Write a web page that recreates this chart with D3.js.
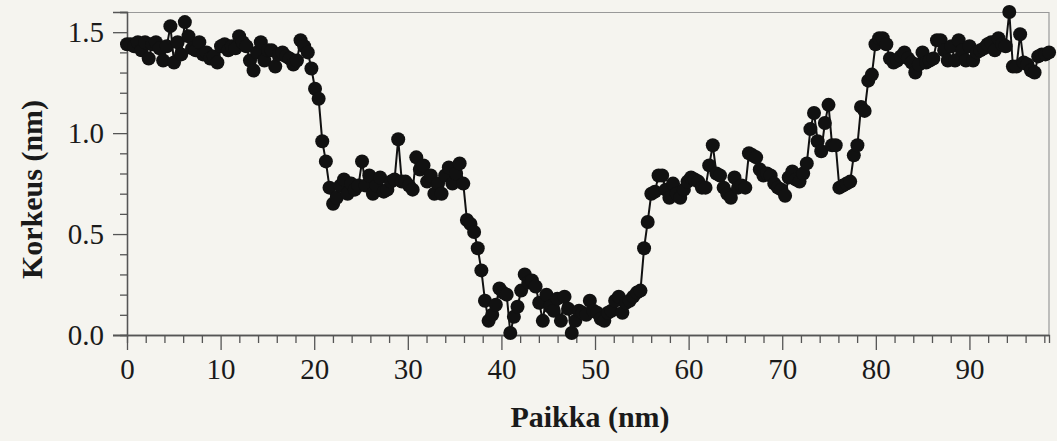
<!DOCTYPE html>
<html>
<head>
<meta charset="utf-8">
<script src="https://cdn.jsdelivr.net/npm/d3@7"></script>
<style>
  html, body { margin: 0; padding: 0; background: #f5f4ef; }
  svg { display: block; }
</style>
</head>
<body>
<div id="chart"></div>
<script>
'use strict';

var step = 0.3863; //nm between samples
var heights = [
    1.44, 1.44, 1.43, 1.45, 1.41, 1.45, 1.37, 1.44, 1.45, 1.42,
    1.36, 1.43, 1.53, 1.35, 1.45, 1.39, 1.55, 1.48, 1.42, 1.41,
    1.45, 1.39, 1.40, 1.37, 1.38, 1.35, 1.43, 1.44, 1.41, 1.43,
    1.42, 1.48, 1.45, 1.43, 1.36, 1.31, 1.40, 1.45, 1.36, 1.41,
    1.41, 1.33, 1.39, 1.40, 1.38, 1.37, 1.34, 1.36, 1.46, 1.43,
    1.40, 1.32, 1.22, 1.17, 0.96, 0.86, 0.73, 0.65, 0.68, 0.74,
    0.77, 0.70, 0.75, 0.72, 0.74, 0.86, 0.74, 0.79, 0.70, 0.74,
    0.78, 0.71, 0.72, 0.76, 0.77, 0.97, 0.76, 0.76, 0.74, 0.72,
    0.88, 0.82, 0.84, 0.76, 0.79, 0.70, 0.75, 0.70, 0.79, 0.83,
    0.75, 0.80, 0.85, 0.75, 0.57, 0.55, 0.51, 0.43, 0.32, 0.17,
    0.07, 0.10, 0.15, 0.23, 0.21, 0.20, 0.01, 0.09, 0.14, 0.22,
    0.30, 0.26, 0.27, 0.24, 0.16, 0.07, 0.20, 0.14, 0.12, 0.18,
    0.07, 0.19, 0.13, 0.01, 0.07, 0.12, 0.11, 0.10, 0.17, 0.12,
    0.11, 0.08, 0.07, 0.11, 0.12, 0.17, 0.19, 0.11, 0.16, 0.17,
    0.19, 0.21, 0.22, 0.43, 0.56, 0.70, 0.71, 0.79, 0.79, 0.72,
    0.68, 0.75, 0.70, 0.68, 0.72, 0.76, 0.78, 0.77, 0.76, 0.73,
    0.73, 0.84, 0.94, 0.80, 0.79, 0.73, 0.70, 0.68, 0.78, 0.73,
    0.74, 0.73, 0.90, 0.89, 0.88, 0.82, 0.79, 0.80, 0.79, 0.75,
    0.73, 0.72, 0.69, 0.78, 0.81, 0.77, 0.76, 0.80, 0.85, 1.02,
    1.10, 0.96, 0.91, 1.05, 1.14, 0.94, 0.94, 0.73, 0.74, 0.75,
    0.76, 0.89, 0.94, 1.13, 1.11, 1.26, 1.29, 1.44, 1.47, 1.47,
    1.44, 1.37, 1.35, 1.36, 1.38, 1.40, 1.37, 1.35, 1.30, 1.34,
    1.40, 1.35, 1.36, 1.37, 1.46, 1.46, 1.41, 1.36, 1.43, 1.36,
    1.46, 1.41, 1.36, 1.43, 1.36, 1.40, 1.41, 1.42, 1.44, 1.45,
    1.41, 1.47, 1.44, 1.43, 1.60, 1.33, 1.33, 1.49, 1.35, 1.34,
    1.31, 1.30, 1.38, 1.39, 1.39, 1.40
];

//axis ticks and labels
var xMajorTicks = [0, 10, 20, 30, 40, 50, 60, 70, 80, 90];
var xMinorTicks = [2, 4, 6, 8, 12, 14, 16, 18, 22, 24, 26, 28, 32, 34, 36, 38, 42, 44, 46, 48,
                   52, 54, 56, 58, 62, 64, 66, 68, 72, 74, 76, 78, 82, 84, 86, 88, 92, 94, 96, 98];
var yMajorTicks = [0, 0.5, 1.0, 1.5];
var yMinorTicks = [0.1, 0.2, 0.3, 0.4, 0.6, 0.7, 0.8, 0.9, 1.1, 1.2, 1.3, 1.4, 1.6];
var xTitle = 'Paikka (nm)';
var yTitle = 'Korkeus (nm)';

//configuration
var config = {};
config.width     = 1057;
config.height    = 441;
config.margin    = {top: 12, right: 8, bottom: 106, left: 127};
config.radius    = 7;
config.font      = '"Liberation Serif", "Times New Roman", serif';
config.fontSize  = 29;
config.axisColor = '#555';

var innerW = config.width - config.margin.left - config.margin.right;
var innerH = config.height - config.margin.top - config.margin.bottom;

var points = heights.map(function(h, i){
    return {x: i * step, y: h};
});

var x = d3.scaleLinear().domain([0, 98.5]).range([0, innerW]);
var y = d3.scaleLinear().domain([0, 1.6]).range([innerH, 0]);

var svg = d3.select('#chart')
    .append('svg')
    .attr('width', config.width)
    .attr('height', config.height)
    ;

var g = svg.append('g')
    .attr('transform', 'translate(' + config.margin.left + ',' + config.margin.top + ')');

//frame (top and right)
g.append('path')
    .attr('d', 'M0,0.5H' + innerW + 'V' + innerH)
    .attr('fill', 'none')
    .attr('stroke', '#999')
    .attr('stroke-width', 1.2)
    ;

//x axis
var xAxis = g.append('g')
    .attr('transform', 'translate(0,' + innerH + ')')
    .call(d3.axisBottom(x).tickValues(xMajorTicks).tickSize(15).tickPadding(8).tickFormat(d3.format('d')));
xAxis.append('g')
    .call(d3.axisBottom(x).tickValues(xMinorTicks).tickSize(8).tickFormat(''));

//y axis
var yAxis = g.append('g')
    .call(d3.axisLeft(y).tickValues(yMajorTicks).tickSize(14).tickPadding(9).tickFormat(d3.format('.1f')));
yAxis.append('g')
    .call(d3.axisLeft(y).tickValues(yMinorTicks).tickSize(7).tickFormat(''));

//style both axes
svg.selectAll('.domain, .tick line')
    .attr('stroke', config.axisColor)
    .attr('stroke-width', 1.3)
    ;
svg.selectAll('.tick text')
    .attr('fill', '#1a1a1a')
    .style('font-family', config.font)
    .style('font-size', config.fontSize + 'px')
    ;
//x axis line spans the full plot width
xAxis.select('.domain').attr('d', 'M-14,0.5H' + innerW);

//profile line
var line = d3.line()
    .x(function(d){ return x(d.x); })
    .y(function(d){ return y(d.y); });

g.append('path')
    .datum(points)
    .attr('d', line)
    .attr('fill', 'none')
    .attr('stroke', '#111')
    .attr('stroke-width', 2)
    ;

//markers
g.selectAll('circle')
    .data(points)
    .enter()
        .append('circle')
        .attr('cx', function(d){ return x(d.x); })
        .attr('cy', function(d){ return y(d.y); })
        .attr('r', config.radius)
        .attr('fill', '#111')
        ;

//axis titles
svg.append('text')
    .attr('x', config.margin.left + innerW / 2 + 2)
    .attr('y', 427)
    .attr('text-anchor', 'middle')
    .attr('fill', '#1a1a1a')
    .style('font-family', config.font)
    .style('font-size', '30px')
    .style('font-weight', 'bold')
    .text(xTitle)
    ;

svg.append('text')
    .attr('transform', 'translate(42,' + (config.margin.top + innerH / 2 + 16) + ') rotate(-90)')
    .attr('text-anchor', 'middle')
    .attr('fill', '#1a1a1a')
    .style('font-family', config.font)
    .style('font-size', '30px')
    .style('font-weight', 'bold')
    .text(yTitle)
    ;
</script>
</body>
</html>
